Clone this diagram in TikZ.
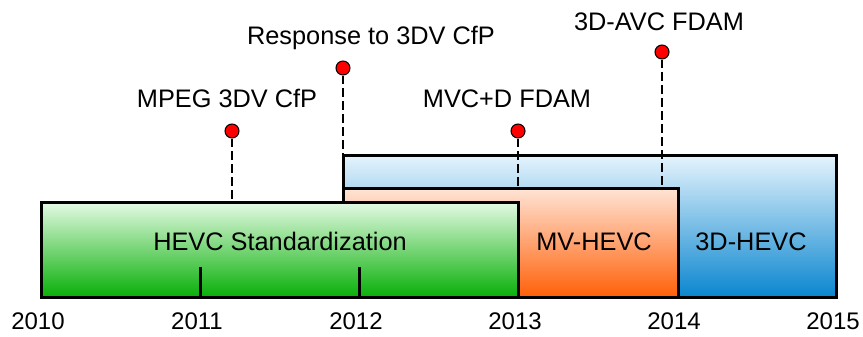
\documentclass[tikz,border=0pt]{standalone}
\usepackage{fontspec}
\setmainfont{Liberation Sans}
\usetikzlibrary{positioning}

\definecolor{greenTop}{HTML}{E4FAE4}
\definecolor{greenBot}{HTML}{08B008}
\definecolor{orangeTop}{HTML}{FFE4D6}
\definecolor{orangeBot}{HTML}{FF6008}
\definecolor{blueTop}{HTML}{E6F4FD}
\definecolor{blueBot}{HTML}{0A86CF}

\begin{document}
\begin{tikzpicture}[
      x=0.75pt, y=-0.75pt,
      font=\fontsize{19}{22}\selectfont,
      phase/.style={draw, line width=2.25pt},
      hevcbox/.style={phase, top color=greenTop, bottom color=greenBot},
      mvbox/.style={phase, top color=orangeTop, bottom color=orangeBot},
      tdbox/.style={phase, top color=blueTop, bottom color=blueBot},
      lbl/.style={anchor=base, inner sep=0pt},
      yearlbl/.style={lbl, font=\fontsize{18}{21}\selectfont},
      milestone/.style={circle, draw, fill=red, line width=0.8pt,
                        minimum size=10.5pt, inner sep=0pt},
      guide/.style={line width=2.2pt, dash pattern=on 6.5pt off 3.2pt},
      tick/.style={line width=2.25pt},
  ]

  \useasboundingbox (0,0) rectangle (863,336);

  % Phase boxes (back to front)
  \draw[tdbox]   (343,155) coordinate (tdNW)   rectangle (836,297);
  \draw[mvbox]   (343,188) coordinate (mvNW)   rectangle (678,297);
  \draw[hevcbox] (41,202)  coordinate (hevcNW) rectangle (518,297) coordinate (hevcSE);

  % Year ticks inside HEVC box
  \coordinate (t2011) at (200,297);
  \coordinate (t2012) at (359,297);
  \draw[tick] (t2011) -- ++(0,-30);
  \draw[tick] (t2012) -- ++(0,-30);

  % Phase labels
  \node[lbl] (hevc) at (280,250) {HEVC Standardization};
  \node[lbl] (mv)   at (594,250) {MV-HEVC};
  \node[lbl] (td)   at (751,250) {3D-HEVC};

  % Year axis
  \foreach \yr [count=\i from 0] in {2010,2011,2012,2013,2014,2015}
    \node[yearlbl] (y\yr) at (38+159*\i,329) {\yr};

  % Milestones
  \node[milestone] (cfp)   at (232,131) {};
  \node[milestone] (resp)  at (343,68)  {};
  \node[milestone] (mvcd)  at (518,131) {};
  \node[milestone] (avc)   at (662,52)  {};

  \node[lbl] (cfplbl)  at (227,107) {MPEG 3DV CfP};
  \node[lbl] (resplbl) at (371,44)  {Response to 3DV CfP};
  \node[lbl] (mvcdlbl) at (507,107) {MVC+D FDAM};
  \node[lbl] (avclbl)  at (659,30)  {3D-AVC FDAM};

  \draw[guide] (cfp)  -- (cfp  |- hevcNW);
  \draw[guide] (resp) -- (resp |- tdNW);
  \draw[guide] (mvcd) -- (mvcd |- mvNW);
  \draw[guide] (avc)  -- (avc  |- mvNW);

  \end{tikzpicture}
\end{document}
